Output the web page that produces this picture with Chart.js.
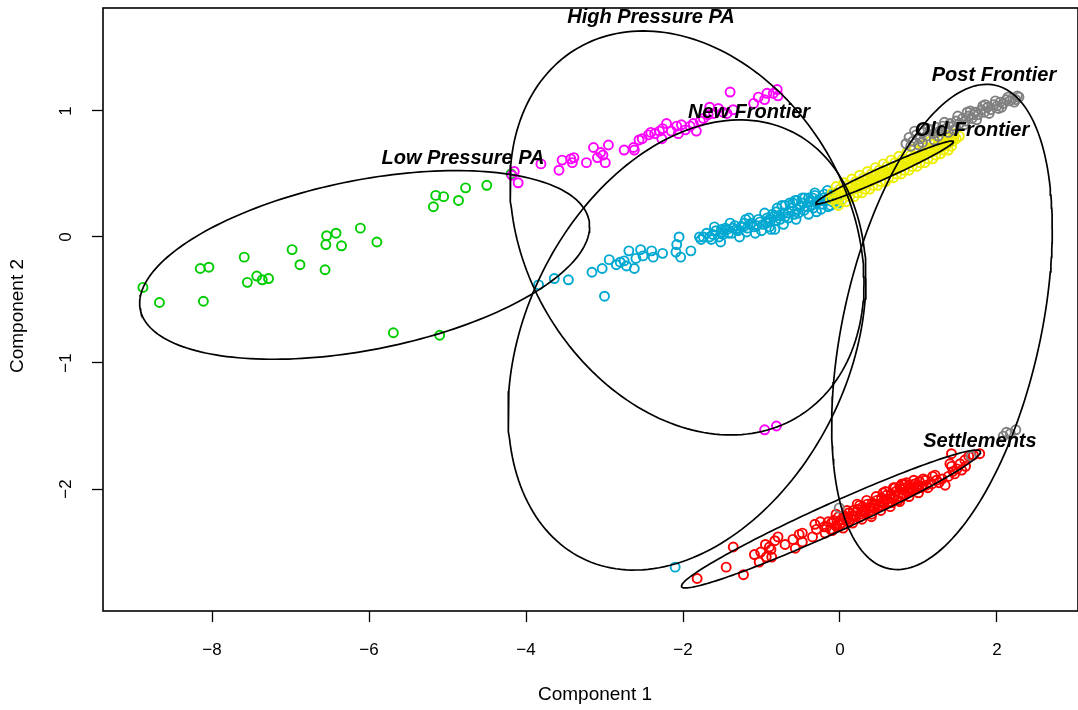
<!DOCTYPE html>
<html>
<head>
<meta charset="utf-8">
<script src="https://cdn.jsdelivr.net/npm/chart.js@4.4.1/dist/chart.umd.min.js"></script>
<style>
  html, body { margin: 0; padding: 0; background: #fff; }
  #wrap { width: 1078px; height: 710px; position: relative; }
</style>
</head>
<body>
<div id="wrap"><canvas id="plot"></canvas></div>
<script>
// cluster names, in the order the ellipses and colours are listed
const groups = ["Low Pressure PA", "High Pressure PA", "New Frontier", "Old Frontier", "Post Frontier", "Settlements"];
const groupColors = ["#00CD00", "#FF00FF", "#00A8D2", "#EEEE00", "#808080", "#FF0000"];

// component scores [comp1, comp2] per cluster
const lowPressure = [
  [-8.88, -0.40], [-8.67, -0.52], [-8.11, -0.51], [-8.15, -0.25], [-8.04, -0.24], [-7.59, -0.16],
  [-7.55, -0.36], [-7.43, -0.31], [-7.36, -0.34], [-7.28, -0.33], [-6.98, -0.10], [-6.88, -0.22],
  [-6.56, -0.26], [-6.55, -0.06], [-6.54, 0.01], [-6.42, 0.03], [-6.35, -0.07], [-6.11, 0.07],
  [-5.90, -0.04], [-5.69, -0.76], [-5.10, -0.78], [-5.18, 0.24], [-5.15, 0.33], [-5.05, 0.32],
  [-4.86, 0.29], [-4.77, 0.39], [-4.50, 0.41], [-4.19, 0.50]
];
const highPressure = [
  [-4.18, 0.49], [-4.10, 0.43], [-4.15, 0.52], [-3.81, 0.58], [-3.58, 0.53], [-3.54, 0.61],
  [-3.43, 0.62], [-3.39, 0.63], [-3.41, 0.59], [-3.23, 0.59], [-3.14, 0.71], [-3.09, 0.63],
  [-3.05, 0.67], [-3.02, 0.65], [-2.99, 0.59], [-2.95, 0.73], [-2.75, 0.69], [-2.62, 0.69],
  [-2.63, 0.71], [-2.56, 0.77], [-2.52, 0.78], [-2.44, 0.81], [-2.41, 0.83], [-2.36, 0.82],
  [-2.30, 0.84], [-2.27, 0.78], [-2.26, 0.86], [-2.21, 0.90], [-2.15, 0.84], [-2.08, 0.88],
  [-2.06, 0.82], [-2.02, 0.89], [-1.97, 0.85], [-1.91, 0.88], [-1.87, 0.90], [-1.83, 0.84],
  [-1.78, 0.92], [-1.74, 0.94], [-1.68, 0.97], [-1.66, 1.03], [-1.61, 0.98], [-1.55, 1.02],
  [-1.49, 0.99], [-1.44, 0.98], [-1.40, 1.15], [-1.36, 1.01], [-1.10, 1.06], [-1.04, 1.11],
  [-0.96, 1.09], [-0.93, 1.14], [-0.85, 1.14], [-0.80, 1.17], [-0.79, 1.12],
  [-0.96, -1.53], [-0.81, -1.50]
];
const newFrontier = [
  [-3.84, -0.38], [-3.64, -0.33], [-3.46, -0.34], [-3.16, -0.28], [-3.03, -0.25], [-3.00, -0.47],
  [-2.94, -0.18], [-2.85, -0.22], [-2.80, -0.20], [-2.75, -0.19], [-2.72, -0.23], [-2.62, -0.25],
  [-2.69, -0.11], [-2.60, -0.17], [-2.54, -0.10], [-2.51, -0.15], [-2.40, -0.11], [-2.38, -0.16],
  [-2.26, -0.13], [-2.09, -0.12], [-2.08, -0.06], [-2.05, 0.00], [-2.03, -0.16], [-1.90, -0.11],
  [-1.79, 0.00], [-1.77, -0.02], [-1.66, 0.00], [-1.64, -0.02], [-1.54, 0.00], [-1.51, 0.06],
  [-1.49, 0.02], [-1.44, 0.06], [-1.38, 0.03], [-1.36, 0.07], [-1.32, 0.06], [-1.23, 0.08],
  [-1.19, 0.04], [-1.13, 0.11], [-1.10, 0.08], [-1.04, 0.14], [-0.98, 0.10], [-0.93, 0.15],
  [-0.89, 0.12], [-0.85, 0.16], [-0.83, 0.06], [-0.81, 0.20], [-0.76, 0.14], [-0.74, 0.25],
  [-0.72, 0.19], [-0.66, 0.15], [-0.62, 0.23], [-0.57, 0.29], [-0.53, 0.19], [-0.51, 0.24],
  [-0.47, 0.27], [-0.40, 0.31], [-0.36, 0.25], [-0.32, 0.33], [-0.28, 0.28], [-0.21, 0.31],
  [-0.15, 0.24], [-0.13, 0.33],
  [-1.74, 0.00], [-1.70, 0.03], [-1.62, 0.02], [-1.58, 0.05], [-1.50, 0.04], [-1.46, 0.07],
  [-1.42, 0.03], [-1.34, 0.09], [-1.30, 0.05], [-1.26, 0.08], [-1.22, 0.11], [-1.18, 0.07],
  [-1.14, 0.10], [-1.06, 0.09], [-1.02, 0.12], [-0.94, 0.11], [-0.90, 0.14], [-0.86, 0.18],
  [-0.82, 0.13], [-0.78, 0.17], [-0.70, 0.16], [-0.66, 0.19], [-0.58, 0.18], [-0.54, 0.22],
  [-0.50, 0.25], [-0.46, 0.21], [-0.42, 0.24], [-0.38, 0.28], [-0.34, 0.23], [-0.30, 0.27],
  [-0.26, 0.30], [-0.22, 0.26], [-0.18, 0.29], [-0.14, 0.32], [-0.10, 0.28], [-0.07, 0.31],
  [-0.04, 0.29], [-0.90, 0.08], [-0.60, 0.27], [-0.45, 0.31], [-1.20, 0.14], [-0.30, 0.20],
  [-1.60, 0.08], [-1.52, -0.04], [-1.40, 0.11], [-1.28, 0.00], [-1.16, 0.15], [-1.08, 0.03],
  [-0.96, 0.19], [-0.88, 0.06], [-0.80, 0.23], [-0.72, 0.10], [-0.64, 0.27], [-0.56, 0.14],
  [-0.48, 0.31], [-0.40, 0.18], [-0.32, 0.35], [-0.24, 0.22], [-0.16, 0.37], [-0.12, 0.25],
  [-0.06, 0.35], [-0.02, 0.27], [-1.00, 0.05], [-0.70, 0.25], [-0.55, 0.29], [-0.35, 0.31],
  [-0.20, 0.34],
  [-2.10, -2.62]
];
const oldFrontier = [
  [-0.12, 0.30], [-0.09, 0.32], [-0.06, 0.30], [-0.03, 0.34], [0.00, 0.32], [0.03, 0.36],
  [0.06, 0.34], [0.09, 0.37], [0.12, 0.36], [0.15, 0.39], [0.18, 0.38], [0.21, 0.41],
  [0.24, 0.39], [0.27, 0.43], [0.30, 0.41], [0.33, 0.45], [0.36, 0.43], [0.39, 0.46],
  [0.42, 0.45], [0.45, 0.48], [0.48, 0.47], [0.51, 0.50], [0.54, 0.49], [0.57, 0.52],
  [0.60, 0.50], [0.63, 0.54], [0.66, 0.52], [0.69, 0.55], [0.72, 0.54], [0.75, 0.57],
  [0.78, 0.56], [0.81, 0.59], [0.84, 0.58], [0.87, 0.61], [0.90, 0.59], [0.93, 0.63],
  [0.96, 0.61], [0.99, 0.64], [1.02, 0.63], [1.05, 0.66], [1.08, 0.65], [1.11, 0.68],
  [1.14, 0.67], [1.17, 0.70], [1.20, 0.68], [1.23, 0.72], [1.26, 0.70], [1.29, 0.73],
  [1.32, 0.72], [1.35, 0.75], [1.38, 0.74], [1.41, 0.77], [1.44, 0.76], [1.48, 0.78],
  [-0.10, 0.35], [-0.05, 0.27], [0.00, 0.38], [0.02, 0.29], [0.10, 0.41], [0.12, 0.32],
  [0.20, 0.44], [0.22, 0.35], [0.30, 0.47], [0.32, 0.38], [0.40, 0.50], [0.42, 0.41],
  [0.50, 0.53], [0.52, 0.44], [0.60, 0.56], [0.62, 0.47], [0.70, 0.59], [0.72, 0.50],
  [0.80, 0.62], [0.82, 0.53], [0.90, 0.65], [0.92, 0.56], [1.00, 0.68], [1.02, 0.59],
  [1.10, 0.71], [1.12, 0.62], [1.20, 0.74], [1.22, 0.65], [1.30, 0.77], [1.32, 0.69],
  [1.40, 0.79], [1.42, 0.72], [1.52, 0.80],
  [0.05, 0.36], [0.15, 0.40], [0.25, 0.43], [0.35, 0.46], [0.45, 0.49], [0.55, 0.52],
  [0.65, 0.55], [0.75, 0.58], [0.85, 0.61], [0.95, 0.64], [1.05, 0.67], [1.15, 0.70],
  [1.25, 0.73], [1.35, 0.76], [1.45, 0.79],
  [-0.05, 0.40], [-0.02, 0.25], [0.05, 0.43], [0.08, 0.28], [0.15, 0.46], [0.18, 0.32],
  [0.25, 0.49], [0.28, 0.35], [0.35, 0.52], [0.38, 0.38], [0.45, 0.55], [0.48, 0.41],
  [0.55, 0.58], [0.58, 0.44], [0.65, 0.61], [0.68, 0.47], [0.75, 0.64], [0.78, 0.50],
  [0.85, 0.67], [0.88, 0.53], [0.95, 0.70], [0.98, 0.56], [1.05, 0.73], [1.08, 0.59],
  [1.15, 0.76], [1.18, 0.62], [1.25, 0.78], [1.28, 0.66], [1.35, 0.81], [1.38, 0.69],
  [1.45, 0.82]
];
const postFrontier = [
  [0.84, 0.74], [0.88, 0.79], [0.93, 0.76], [0.97, 0.81], [1.02, 0.78], [1.06, 0.83],
  [1.10, 0.80], [1.15, 0.85], [1.19, 0.82], [1.23, 0.87], [1.27, 0.84], [1.31, 0.88],
  [1.35, 0.86], [1.40, 0.90], [1.44, 0.88], [1.48, 0.92], [1.52, 0.90], [1.56, 0.94],
  [1.60, 0.92], [1.64, 0.96], [1.68, 0.94], [1.72, 0.99], [1.76, 0.97], [1.80, 1.01],
  [1.84, 0.99], [1.88, 1.03], [1.92, 1.01], [1.96, 1.05], [2.00, 1.04], [2.04, 1.07],
  [2.08, 1.06], [2.12, 1.09], [2.16, 1.08], [2.20, 1.10], [2.24, 1.09], [2.28, 1.11],
  [1.00, 0.73], [1.20, 0.77], [1.62, 0.99], [1.85, 1.05],
  [0.90, 0.72], [0.95, 0.84], [1.05, 0.75], [1.12, 0.86], [1.25, 0.80], [1.33, 0.91],
  [1.45, 0.85], [1.50, 0.96], [1.58, 0.89], [1.66, 1.00], [1.74, 0.93], [1.82, 1.04],
  [1.90, 0.98], [1.98, 1.08], [2.06, 1.03], [2.14, 1.11], [2.22, 1.07], [2.26, 1.12],
  [1.38, 0.83], [1.70, 0.97], [2.02, 1.02],
  [2.08, -1.58], [2.17, -1.56], [2.24, -1.53], [2.12, -1.55], [1.67, -1.74], [-0.01, -2.15]
];
const settlements = [
  [-1.82, -2.71], [-1.45, -2.62], [-1.23, -2.68], [-1.36, -2.46], [-1.09, -2.52], [-1.03, -2.58],
  [-1.01, -2.50], [-0.95, -2.44], [-0.94, -2.54], [-0.87, -2.54], [-0.88, -2.48], [-0.83, -2.41],
  [-0.79, -2.38], [-0.57, -2.47], [-0.52, -2.36], [-0.48, -2.42], [-0.48, -2.35], [-0.35, -2.38],
  [-0.32, -2.28], [-0.19, -2.35], [-0.17, -2.30], [-0.11, -2.27], [-0.04, -2.30], [0.00, -2.25],
  [0.06, -2.22], [0.11, -2.26], [0.17, -2.21], [0.21, -2.18], [0.26, -2.22], [0.30, -2.17],
  [0.38, -2.15], [0.42, -2.13], [0.49, -2.14], [0.55, -2.10], [0.62, -2.11], [0.68, -2.07],
  [0.74, -2.09], [0.79, -1.96], [0.81, -2.05], [0.87, -2.03], [0.93, -2.01], [0.98, -1.98],
  [1.04, -1.99], [1.10, -1.97], [1.17, -1.96], [1.21, -1.89], [1.23, -1.93], [1.30, -1.92],
  [1.34, -1.97], [1.38, -1.90], [1.42, -1.82], [1.44, -1.86], [1.49, -1.84], [1.53, -1.80],
  [1.55, -1.85], [1.59, -1.77], [1.64, -1.74], [1.70, -1.73], [1.42, -1.72], [1.78, -1.72],
  [1.40, -1.80], [0.68, -1.99], [0.76, -1.98],
  [-0.20, -2.30], [-0.15, -2.26], [-0.12, -2.32], [-0.08, -2.25], [-0.05, -2.29], [-0.02, -2.22],
  [0.02, -2.27], [0.05, -2.21], [0.08, -2.25], [0.11, -2.19], [0.14, -2.24], [0.17, -2.17],
  [0.20, -2.22], [0.23, -2.16], [0.26, -2.20], [0.29, -2.14], [0.32, -2.19], [0.35, -2.12],
  [0.38, -2.17], [0.41, -2.11], [0.44, -2.15], [0.47, -2.09], [0.50, -2.13], [0.53, -2.07],
  [0.56, -2.12], [0.59, -2.05], [0.62, -2.10], [0.65, -2.04], [0.68, -2.08], [0.71, -2.02],
  [0.74, -2.06], [0.77, -2.00], [0.80, -2.04], [0.83, -1.99], [0.86, -2.02], [0.89, -1.97],
  [0.92, -2.01], [0.95, -1.96], [0.98, -2.00], [1.01, -1.94], [1.05, -1.98], [1.09, -1.93],
  [0.10, -2.23], [0.30, -2.18], [0.45, -2.12], [0.60, -2.08], [0.70, -2.05], [0.90, -1.99],
  [0.00, -2.28], [0.25, -2.13], [0.55, -2.03], [0.85, -1.95], [0.40, -2.20], [0.65, -2.11],
  [-0.10, -2.33], [-0.05, -2.20], [0.04, -2.31], [0.09, -2.17], [0.16, -2.27], [0.22, -2.12],
  [0.28, -2.24], [0.34, -2.09], [0.40, -2.22], [0.46, -2.06], [0.52, -2.17], [0.58, -2.02],
  [0.64, -2.14], [0.70, -1.99], [0.76, -2.10], [0.82, -1.96], [0.88, -2.06], [0.94, -1.93],
  [1.00, -2.03], [1.06, -1.92], [1.12, -1.99], [1.18, -1.90], [1.26, -1.95], [1.46, -1.88],
  [1.60, -1.82], [-0.30, -2.32], [-0.25, -2.26], [-0.60, -2.40], [-0.70, -2.44], [-0.90, -2.46]
];
const groupPoints = [lowPressure, highPressure, newFrontier, oldFrontier, postFrontier, settlements];

// cluster ellipses: centre, half width along comp1, comp2 shift at the
// widest point, and half height at the centre line
const ellCenterX = [-6.056, -1.949, -1.949, 0.569, 1.299, -0.115];
const ellCenterY = [-0.222, 0.032, -0.857, 0.512, -0.714, -2.238];
const ellHalfW   = [2.866, 2.255, 2.280, 0.875, 1.405, 1.904];
const ellSkew    = [0.304, -0.397, 0.529, 0.244, 0.780, 0.532];
const ellHalfH   = [0.684, 1.553, 1.706, 0.052, 1.760, 0.127];

// where each cluster name is written
const labelX = [-4.803, -2.408, -1.159, 1.682, 1.962, 1.783];
const labelY = [0.619, 1.738, 0.984, 0.849, 1.278, -1.619];

// axis ticks
const xTicks = [-8, -6, -4, -2, 0, 2];
const yTicks = [-2, -1, 0, 1];

function minus(v) {
  return v < 0 ? "\u2212" + Math.abs(v) : String(v);
}

function ellipseOutline(i) {
  const pts = [];
  const steps = 200;
  for (let k = 0; k <= steps; k++) {
    const t = 2 * Math.PI * k / steps;
    pts.push({
      x: ellCenterX[i] + ellHalfW[i] * Math.cos(t),
      y: ellCenterY[i] + ellSkew[i] * Math.cos(t) + ellHalfH[i] * Math.sin(t)
    });
  }
  return pts;
}

// draw order of the point clouds (lower = on top)
const pointOrder = [6, 5, 4, 3, 1, 2];

const datasets = [];
groups.forEach((name, i) => {
  datasets.push({
    label: name + " ellipse",
    data: ellipseOutline(i),
    showLine: true,
    pointRadius: 0,
    borderColor: "#000",
    borderWidth: 1.7,
    tension: 0,
    fill: false,
    order: 0
  });
});
groups.forEach((name, i) => {
  datasets.push({
    label: name,
    data: groupPoints[i].map(p => ({ x: p[0], y: p[1] })),
    pointStyle: "circle",
    pointRadius: 4.5,
    pointBorderWidth: 1.9,
    borderColor: groupColors[i],
    backgroundColor: "rgba(0,0,0,0)",
    showLine: false,
    order: pointOrder[i]
  });
});

const frameAndText = {
  id: "frameAndText",
  afterDatasetsDraw(chart) {
    const { ctx, scales } = chart;
    ctx.save();
    ctx.fillStyle = "#000";
    ctx.font = "italic bold 20px 'Liberation Sans', Arial, sans-serif";
    ctx.textAlign = "center";
    ctx.textBaseline = "middle";
    groups.forEach((name, i) => {
      ctx.fillText(name, scales.x.getPixelForValue(labelX[i]), scales.y.getPixelForValue(labelY[i]));
    });
    ctx.restore();
  },
  afterDraw(chart) {
    const { ctx, chartArea, scales } = chart;
    ctx.save();
    ctx.strokeStyle = "#000";
    ctx.lineWidth = 1.6;
    ctx.strokeRect(chartArea.left, chartArea.top, chartArea.right - chartArea.left, chartArea.bottom - chartArea.top);

    ctx.fillStyle = "#000";
    ctx.font = "17px 'Liberation Sans', Arial, sans-serif";
    ctx.textAlign = "center";
    ctx.textBaseline = "middle";
    yTicks.forEach(v => {
      ctx.save();
      ctx.translate(66, scales.y.getPixelForValue(v));
      ctx.rotate(-Math.PI / 2);
      ctx.fillText(minus(v), 0, 0);
      ctx.restore();
    });

    ctx.font = "19px 'Liberation Sans', Arial, sans-serif";
    ctx.fillText("Component 1", 595, 695);
    ctx.save();
    ctx.translate(18, 316);
    ctx.rotate(-Math.PI / 2);
    ctx.fillText("Component 2", 0, 0);
    ctx.restore();
    ctx.restore();
  }
};

new Chart(document.getElementById("plot"), {
  type: "scatter",
  data: { datasets },
  options: {
    responsive: true,
    maintainAspectRatio: false,
    animation: false,
    devicePixelRatio: 1,
    layout: { autoPadding: false, padding: { top: 8, right: 0, left: 0, bottom: 0 } },
    plugins: { legend: { display: false }, tooltip: { enabled: false } },
    scales: {
      x: {
        type: "linear",
        min: -9.389,
        max: 3.032,
        afterBuildTicks: axis => { axis.ticks = xTicks.map(v => ({ value: v })); },
        afterFit: axis => { axis.height = 99; },
        border: { display: false },
        grid: { drawOnChartArea: false, drawTicks: true, tickLength: 11, tickColor: "#000", tickWidth: 1.3 },
        ticks: {
          color: "#000",
          padding: 18,
          maxRotation: 0,
          font: { family: "'Liberation Sans', Arial, sans-serif", size: 17 },
          callback: v => minus(v)
        }
      },
      y: {
        type: "linear",
        min: -2.968,
        max: 1.817,
        afterBuildTicks: axis => { axis.ticks = yTicks.map(v => ({ value: v })); },
        afterFit: axis => { axis.width = 103; },
        border: { display: false },
        grid: { drawOnChartArea: false, drawTicks: true, tickLength: 11, tickColor: "#000", tickWidth: 1.3 },
        ticks: { display: false }
      }
    }
  },
  plugins: [frameAndText]
});
</script>
</body>
</html>
